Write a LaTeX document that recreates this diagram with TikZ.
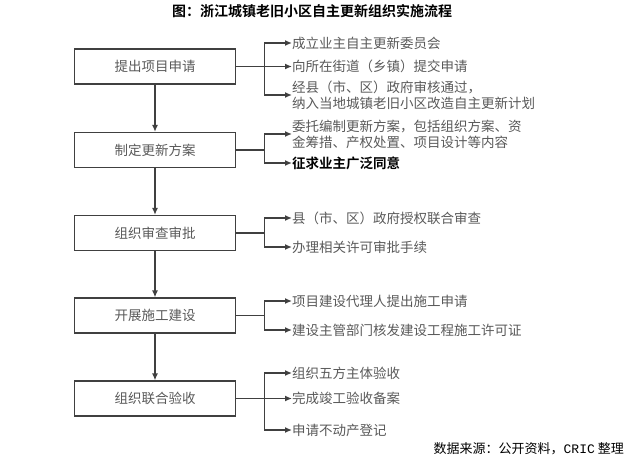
\documentclass[tikz,border=0pt]{standalone}
\usepackage{fontspec}
\setmainfont{Noto Sans CJK SC}[BoldFont={Noto Sans CJK SC Bold}]
\newfontfamily\monofont{Liberation Mono}
\usepackage{tikz}
\usetikzlibrary{arrows.meta, positioning}

\definecolor{boxline}{HTML}{404040}
\definecolor{txtgray}{HTML}{595959}

\tikzset{
    stepbox/.style={draw=boxline, line width=1.3pt, minimum width=161pt, minimum height=35pt,
        inner sep=0pt, text=txtgray, font=\fontsize{13.5}{15}\selectfont},
    itemtext/.style={anchor=west, inner sep=0pt, align=left, text=txtgray,
        font=\fontsize{13.5}{16}\selectfont},
    link/.style={draw=boxline, line width=1.3pt},
    flow/.style={link, -{Latex[length=7pt,width=6pt]}}
}

\begin{document}
\begin{tikzpicture}[x=1pt, y=-1pt]
    \useasboundingbox (0,0) rectangle (626,466);

    % Title
    \node[font=\fontsize{14}{16}\selectfont\bfseries, inner sep=0pt] (title) at (312,11) {\resizebox{280pt}{!}{图：浙江城镇老旧小区自主更新组织实施流程}};

    % Main steps
    \node[stepbox] (s1) at (155,66.5) {提出项目申请};
    \node[stepbox] (s2) at (155,150) {制定更新方案};
    \node[stepbox] (s3) at (155,233) {组织审查审批};
    \node[stepbox] (s4) at (155,315.5) {开展施工建设};
    \node[stepbox] (s5) at (155,398.5) {组织联合验收};

    \draw[flow] (s1) -- (s2);
    \draw[flow] (s2) -- (s3);
    \draw[flow] (s3) -- (s4);
    \draw[flow] (s4) -- (s5);

    % Branch texts
    \node[itemtext] (t11) at (292,43) {成立业主自主更新委员会};
    \node[itemtext] (t12) at (292,66.5) {向所在街道（乡镇）提交申请};
    \node[itemtext] (t13) at (292,95) {经县（市、区）政府审核通过，\\纳入当地城镇老旧小区改造自主更新计划};

    \node[itemtext] (t21) at (292,134) {委托编制更新方案，包括组织方案、资\\金筹措、产权处置、项目设计等内容};
    \node[itemtext, text=black, font=\fontsize{13.5}{16}\selectfont\bfseries] (t22) at (292,163) {征求业主广泛同意};

    \node[itemtext] (t31) at (292,218) {县（市、区）政府授权联合审查};
    \node[itemtext] (t32) at (292,247) {办理相关许可审批手续};

    \node[itemtext] (t41) at (292,301) {项目建设代理人提出施工申请};
    \node[itemtext] (t42) at (292,330) {建设主管部门核发建设工程施工许可证};

    \node[itemtext] (t51) at (292,373) {组织五方主体验收};
    \node[itemtext] (t52) at (292,398.5) {完成竣工验收备案};
    \node[itemtext] (t53) at (292,430) {申请不动产登记};

    % Junctions
    \coordinate[right=28pt of s1.east] (j1);
    \coordinate[right=28pt of s2.east] (j2);
    \coordinate[right=28pt of s3.east] (j3);
    \coordinate[right=28pt of s4.east] (j4);
    \coordinate[right=28pt of s5.east] (j5);

    \draw[link] (s1.east) -- (j1);
    \draw[flow] (j1) |- (t11.west);
    \draw[flow] (j1) |- (t12.west);
    \draw[flow] (j1) |- (t13.west);

    \draw[link] (s2.east) -- (j2);
    \draw[flow] (j2) |- (t21.west);
    \draw[flow] (j2) |- (t22.west);

    \draw[link] (s3.east) -- (j3);
    \draw[flow] (j3) |- (t31.west);
    \draw[flow] (j3) |- (t32.west);

    \draw[link] (s4.east) -- (j4);
    \draw[flow] (j4) |- (t41.west);
    \draw[flow] (j4) |- (t42.west);

    \draw[link] (s5.east) -- (j5);
    \draw[flow] (j5) |- (t51.west);
    \draw[flow] (j5) |- (t52.west);
    \draw[flow] (j5) |- (t53.west);

    % Source
    \node[anchor=east, inner sep=0pt, font=\fontsize{13}{15}\selectfont] (src) at (624,449) {数据来源：公开资料，{\monofont CRIC} 整理};
\end{tikzpicture}
\end{document}
